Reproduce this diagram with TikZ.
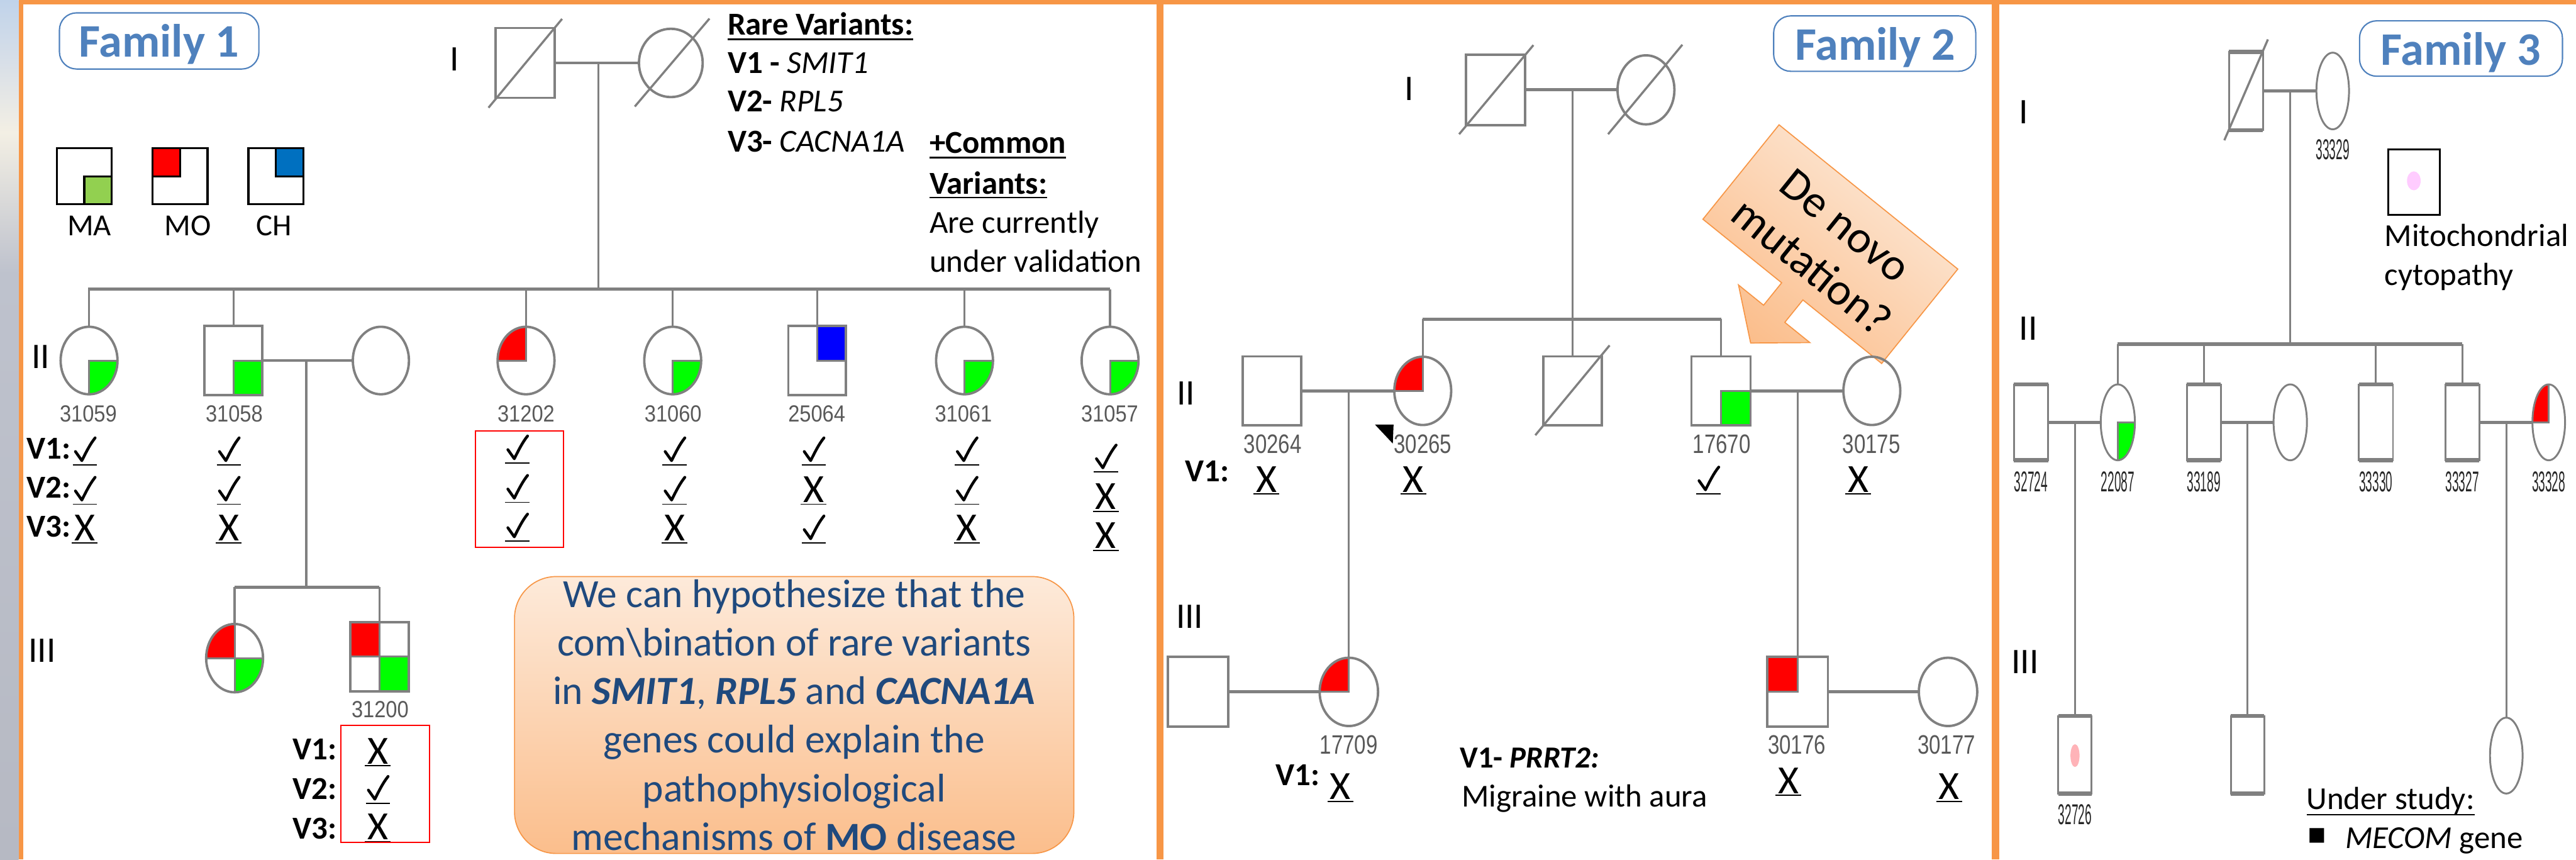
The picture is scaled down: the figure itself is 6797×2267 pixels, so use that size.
\documentclass[tikz,border=0pt]{standalone}
\usepackage{fontspec}
\setmainfont{Carlito}
\newfontfamily\arialf{Liberation Sans}
\newfontfamily\djv{DejaVu Sans}
\usepackage{graphicx}
\usetikzlibrary{shapes.geometric,calc}
\definecolor{orng}{HTML}{F79646}
\definecolor{fblue}{HTML}{4F81BD}
\definecolor{pgray}{HTML}{808080}
\definecolor{numgray}{HTML}{595959}
\definecolor{hblue}{HTML}{1F497D}
\definecolor{pgreen}{HTML}{00FF00}
\definecolor{lgreen}{HTML}{92D050}
\definecolor{lblue}{HTML}{0070C0}
\definecolor{pblue}{HTML}{0000FF}
\definecolor{pred}{HTML}{FF0000}
\definecolor{peachL}{HTML}{FDEADA}
\definecolor{peachD}{HTML}{FBBE8C}
\definecolor{mito}{HTML}{FFCCFF}
\definecolor{mitob}{HTML}{FFB3B8}
\newcommand\M[5]{\node[male, minimum width=#4*0.02cm, minimum height=#5*0.02cm] (#1) at (#2,-#3) {};}
\newcommand\F[5]{\node[female, minimum width=#4*0.02cm, minimum height=#5*0.02cm] (#1) at (#2,-#3) {};}
\newcommand\qE[7]{\begin{scope}\clip (#1,-#2) ellipse [x radius=#3, y radius=#4];
  \fill[#7] (#1,-#2) rectangle ++({#5*#3},{#6*#4});
  \draw[qline] ({#1+#5*#3},{-#2}) -- (#1,-#2) -- ({#1},{-#2+#6*#4});\end{scope}}
\newcommand\qR[7]{\fill[#7] (#1,-#2) rectangle ++({#5*#3},{#6*#4});
  \draw[qline] ({#1+#5*#3},{-#2}) -- (#1,-#2) -- ({#1},{-#2+#6*#4});}
% check mark drawn as a stroke, with its underline
\newcommand\ckm[3]{\coordinate (#1) at (#2,-#3);
  \draw[ckst] ($(#1)+(-25,35)$) -- ($(#1)+(-8,11)$) .. controls ($(#1)+(4,35)$) and ($(#1)+(14,55)$) .. ($(#1)+(27,71)$);
  \draw[ulk] ($(#1)+(-32,0)$) -- ($(#1)+(32,0)$);}
\newcommand\xm[3]{\node[mkx] (#1) at (#2,-#3+5) {X};
  \draw[ulk] ([xshift=-0.34cm,yshift=-0.05cm]#1.base) -- ([xshift=0.34cm,yshift=-0.05cm]#1.base);}
\newcommand\nA[1]{\scalebox{0.88}[1]{#1}}
\newcommand\nB[1]{\scalebox{0.78}[1]{#1}}
\newcommand\nC[1]{\scalebox{0.42}[1]{#1}}
\begin{document}
\begin{tikzpicture}[x=0.01cm,y=0.01cm,
  male/.style={rectangle, draw=pgray, line width=1.8pt, inner sep=0pt, outer sep=0pt},
  female/.style={ellipse, draw=pgray, line width=1.8pt, inner sep=0pt, outer sep=0pt},
  pline/.style={draw=pgray, line width=1.6pt},
  hline/.style={draw=pgray, line width=2.2pt},
  qline/.style={draw=pgray, line width=1.4pt},
  dslash/.style={draw=pgray, line width=1.6pt},
  lbl/.style={inner sep=0pt, outer sep=0pt},
  gen/.style={lbl, font=\fontsize{27}{27}\selectfont},
  txt/.style={lbl, anchor=base west, font=\fontsize{24}{24}\selectfont},
  vlab/.style={lbl, anchor=base west, font=\fontsize{24}{24}\selectfont\bfseries},
  num1/.style={lbl, text=numgray, font=\arialf\fontsize{17.5}{17.5}\selectfont},
  num2/.style={lbl, text=numgray, font=\arialf\fontsize{20}{20}\selectfont},
  num3/.style={lbl, text=black!85, font=\arialf\fontsize{21.5}{21.5}\selectfont},
  ckst/.style={draw=black, line width=2.1pt, line cap=round, line join=round},
  mkx/.style={anchor=base, inner sep=0pt, outer sep=0pt, font=\fontsize{30}{30}\selectfont},
  ulk/.style={draw=black, line width=0.9pt},
  ulk2/.style={draw=black, line width=1.2pt},
  famtitle/.style={draw=fblue, line width=1pt, rounded corners=0.45cm, fill=white, inner sep=0pt},
  famtext/.style={lbl, anchor=base, text=fblue, font=\fontsize{35}{35}\selectfont\bfseries},
  redbox/.style={draw=red, line width=1pt},
  lgbox/.style={rectangle, draw=black, line width=1.5pt, inner sep=0pt, outer sep=0pt, minimum width=1.45cm, minimum height=1.48cm},
  lgq/.style={draw=black, line width=1.5pt}
]
\useasboundingbox (0,0) rectangle (6797,-2267);
\fill[white] (0,0) rectangle (6797,-2267);
% left photo strip
\shade[top color={rgb,255:red,192;green,211;blue,234}, bottom color={rgb,255:red,214;green,222;blue,232}] (0,0) rectangle (49,-150);
\shade[top color={rgb,255:red,214;green,222;blue,232}, bottom color={rgb,255:red,243;green,239;blue,228}] (0,-150) rectangle (49,-350);
\shade[top color={rgb,255:red,243;green,239;blue,228}, bottom color={rgb,255:red,190;green,194;blue,205}] (0,-350) rectangle (49,-720);
\shade[top color={rgb,255:red,190;green,194;blue,205}, bottom color={rgb,255:red,182;green,185;blue,195}] (0,-720) rectangle (49,-2267);
% orange frames
\fill[orng] (49,0) rectangle (6797,-11);
\fill[orng] (49,0) rectangle (62,-2267);
\fill[orng] (3052,0) rectangle (3070,-2267);
\fill[orng] (5256,0) rectangle (5276,-2267);

%================ FAMILY 1 ================
\node[famtitle, minimum width=5.26cm, minimum height=1.48cm] (f1box) at (420,-108) {};
\node[famtext] (f1t) at (420,-151) {Family 1};
% legend
\node[lgbox] (lgMA) at (222.5,-465) {};
\node[lgbox] (lgMO) at (475,-465) {};
\node[lgbox] (lgCH) at (728,-465) {};
\filldraw[lgq, fill=lgreen] (lgMA.center) rectangle (lgMA.south east);
\filldraw[lgq, fill=pred] (lgMO.north west) rectangle (lgMO.center);
\filldraw[lgq, fill=lblue] (lgCH.center) rectangle (lgCH.north east);
\node[lbl, font=\fontsize{23}{23}\selectfont] (tMA) at (236,-596) {MA};
\node[lbl, font=\fontsize{23}{23}\selectfont] (tMO) at (495,-596) {MO};
\node[lbl, font=\fontsize{23}{23}\selectfont] (tCH) at (723,-596) {CH};
% rare variants
\node[txt, font=\fontsize{24}{24}\selectfont\bfseries] (rv) at (1920,-92) {Rare Variants:};
\draw[ulk2] ([yshift=-0.12cm]rv.base west) -- ([yshift=-0.12cm]rv.base east);
\node[txt] (rv1) at (1920,-193) {\textbf{V1 - }\textit{SMIT1}};
\node[txt] (rv2) at (1920,-295) {\textbf{V2- }\textit{RPL5}};
\node[txt] (rv3) at (1920,-400) {\textbf{V3- }\textit{CACNA1A}};
\node[txt, font=\fontsize{24}{24}\selectfont\bfseries] (cv1) at (2453,-404) {+Common};
\draw[ulk2] ([yshift=-0.12cm]cv1.base west) -- ([yshift=-0.12cm]cv1.base east);
\node[txt, font=\fontsize{24}{24}\selectfont\bfseries] (cv2) at (2453,-512) {Variants:};
\draw[ulk2] ([yshift=-0.09cm]cv2.base west) -- ([yshift=-0.09cm]cv2.base east);
\node[txt] (cv3) at (2453,-614) {Are currently};
\node[txt] (cv4) at (2453,-718) {under validation};
% generation labels
\node[gen] (f1g1) at (1200,-157) {I};
\node[gen] (f1g2) at (107,-941) {II};
\node[gen] (f1g3) at (111,-1716) {III};
% quadrant fills
\qE{235}{951}{75}{89}{1}{-1}{pgreen}
\qR{616}{951}{76}{91}{1}{-1}{pgreen}
\qE{1388}{951}{75}{89}{-1}{1}{pred}
\qE{1775}{951}{75}{89}{1}{-1}{pgreen}
\qR{2156}{951}{76}{91}{1}{1}{pblue}
\qE{2545}{951}{75}{89}{1}{-1}{pgreen}
\qE{2929}{951}{75}{89}{1}{-1}{pgreen}
\qE{619}{1736}{75}{90}{-1}{1}{pred}
\qE{619}{1736}{75}{90}{1}{-1}{pgreen}
\draw[qline] (544,-1736) -- (694,-1736);
\qR{1001}{1732}{77}{91}{-1}{1}{pred}
\qR{1001}{1732}{77}{91}{1}{-1}{pgreen}
\draw[qline] (924,-1732) -- (1078,-1732) (1001,-1641) -- (1001,-1823);
% persons
\M{f1i1}{1385}{166}{78}{92}
\F{f1i2}{1770}{166}{84}{90}
\draw[dslash] ($(f1i1.south west)+(-18,-26)$) -- ($(f1i1.north east)+(20,24)$);
\draw[dslash] ($(f1i2.center)+(-95,-115)$) -- ($(f1i2.center)+(102,117)$);
\F{p31059}{235}{951}{75}{89}
\M{p31058}{616}{951}{76}{91}
\F{s31058}{1005}{951}{74}{89}
\F{p31202}{1388}{951}{75}{89}
\F{p31060}{1775}{951}{75}{89}
\M{p25064}{2156}{951}{76}{91}
\F{p31061}{2545}{951}{75}{89}
\F{p31057}{2929}{951}{75}{89}
\F{p3f}{619}{1736}{75}{90}
\M{p31200}{1001}{1732}{77}{91}
% connectors
\coordinate (f1mar) at (1579,-166);
\coordinate (f1sibL) at (233,-763);
\coordinate (f1sibR) at (2929,-763);
\draw[hline] (f1i1.east) -- (f1i2.west);
\draw[pline] (f1mar) -- (f1mar |- f1sibL);
\draw[hline] (f1sibL) -- (f1sibR);
\foreach \n in {p31059,p31058,p31202,p31060,p25064,p31061,p31057}
  \draw[pline] (\n.north) -- (\n.north |- f1sibL);
\draw[hline] (p31058.east) -- (s31058.west);
\coordinate (f1m2) at (808,-951);
\coordinate (f1s3L) at (619,-1549);
\coordinate (f1s3R) at (1001,-1549);
\draw[pline] (f1m2) -- (f1m2 |- f1s3L);
\draw[hline] (f1s3L) -- (f1s3R);
\draw[pline] (p3f.north) -- (p3f.north |- f1s3L);
\draw[pline] (p31200.north) -- (p31200.north |- f1s3L);
% numbers
\node[num1] (n31059) at (233,-1091) {\nA{31059}};
\node[num1] (n31058) at (618,-1091) {\nA{31058}};
\node[num1] (n31202) at (1388,-1091) {\nA{31202}};
\node[num1] (n31060) at (1776,-1091) {\nA{31060}};
\node[num1] (n25064) at (2155,-1091) {\nA{25064}};
\node[num1] (n31061) at (2542,-1091) {\nA{31061}};
\node[num1] (n31057) at (2928,-1091) {\nA{31057}};
\node[num1] (n31200) at (1003,-1872) {\nA{31200}};
% variant labels
\node[vlab] (v1a) at (70,-1210) {V1:};
\node[vlab] (v2a) at (70,-1313) {V2:};
\node[vlab] (v3a) at (70,-1416) {V3:};
\node[vlab] (v1b) at (772,-2003) {V1:};
\node[vlab] (v2b) at (772,-2108) {V2:};
\node[vlab] (v3b) at (772,-2213) {V3:};
% marks
\ckm{a1}{224}{1226} \ckm{a2}{224}{1330} \xm{a3}{224}{1432}
\ckm{b1}{604}{1226} \ckm{b2}{604}{1330} \xm{b3}{604}{1432}
\ckm{c1}{1365}{1221} \ckm{c2}{1365}{1325} \ckm{c3}{1365}{1427}
\ckm{d1}{1780}{1226} \ckm{d2}{1780}{1330} \xm{d3}{1780}{1432}
\ckm{e1}{2147}{1226} \xm{e2}{2147}{1330} \ckm{e3}{2147}{1432}
\ckm{g1}{2551}{1226} \ckm{g2}{2551}{1330} \xm{g3}{2551}{1432}
\ckm{h1}{2918}{1245} \xm{h2}{2918}{1349} \xm{h3}{2918}{1452}
\xm{k1}{997}{2020} \ckm{k2}{997}{2119} \xm{k3}{997}{2220}
\draw[redbox] (1254,-1136) rectangle (1487,-1444);
\draw[redbox] (900,-1913) rectangle (1133,-2222);
% hypothesis box
\node[rectangle, rounded corners=1.1cm, draw=orng, line width=0.8pt, top color=peachL, bottom color=peachD,
  minimum width=14.75cm, minimum height=7.3cm, inner sep=0pt, align=center, text=hblue,
  font=\fontsize{30}{36.4}\selectfont] (hyp) at (2095.5,-1886)
  {We can hypothesize that the\\ com\textbackslash bination of rare variants\\ in \textbf{\textit{SMIT1}}, \textbf{\textit{RPL5}} and \textbf{\textit{CACNA1A}}\\ genes could explain the\\ pathophysiological\\ mechanisms of \textbf{MO} disease};

%================ FAMILY 2 ================
\node[famtitle, minimum width=5.33cm, minimum height=1.46cm] (f2box) at (4946.5,-115) {};
\node[famtext] (f2t) at (4948,-158) {Family 2};
\node[gen] (f2g1) at (3718,-235) {I};
\node[gen] (f2g2) at (3129,-1037) {II};
\node[gen] (f2g3) at (3139,-1627) {III};
% callout
\begin{scope}[shift={(4829.5,-644)}, rotate=-38.9]
\path[draw=orng, line width=0.8pt, top color=peachL, bottom color=peachD, shading angle=-38.9]
  (-303,160) -- (303,160) -- (303,-160) -- (36,-160) -- (36,-236) -- (121,-236) -- (0,-335)
  -- (-121,-236) -- (-36,-236) -- (-36,-160) -- (-303,-160) -- cycle;
\node[lbl, rotate=-38.9, align=center, font=\fontsize{34}{40}\selectfont] (denovo) at (0,-8) {De novo\\mutation?};
\end{scope}
% fills
\qE{3754}{1031}{75}{90}{-1}{1}{pred}
\qR{4541}{1031}{78}{91}{1}{-1}{pgreen}
\qE{3559}{1825}{77}{90}{-1}{1}{pred}
\qR{4743}{1825}{80}{92}{-1}{1}{pred}
% persons
\M{f2i1}{3946}{237}{78}{93}
\F{f2i2}{4343}{237}{75}{91}
\draw[dslash] ($(f2i1.center)+(-96,-117)$) -- ($(f2i1.center)+(100,118)$);
\draw[dslash] ($(f2i2.center)+(-100,-117)$) -- ($(f2i2.center)+(96,119)$);
\M{p30264}{3356}{1031}{77}{91}
\F{p30265}{3754}{1031}{75}{90}
\M{f2d}{4149}{1031}{77}{91}
\M{p17670}{4541}{1031}{78}{91}
\F{p30175}{4939}{1031}{75}{90}
\draw[dslash] ($(f2d.center)+(-98,-117)$) -- ($(f2d.center)+(98,120)$);
\M{f2s}{3161}{1825}{80}{92}
\F{p17709}{3559}{1825}{77}{90}
\M{p30176}{4743}{1825}{80}{92}
\F{p30177}{5140}{1825}{77}{90}
% connectors
\coordinate (f2mar) at (4149,-237);
\coordinate (f2sibL) at (3754,-842);
\coordinate (f2sibR) at (4541,-842);
\draw[hline] (f2i1.east) -- (f2i2.west);
\draw[pline] (f2mar) -- (f2mar |- f2sibL);
\draw[hline] (f2sibL) -- (f2sibR);
\foreach \n in {p30265,f2d,p17670}
  \draw[pline] (\n.north) -- (\n.north |- f2sibL);
\draw[hline] (p30264.east) -- (p30265.west);
\draw[hline] (p17670.east) -- (p30175.west);
\coordinate (f2m1) at (3559,-1031);
\coordinate (f2m2) at (4743,-1031);
\draw[pline] (f2m1) -- (p17709.north);
\draw[pline] (f2m2) -- (p30176.north);
\draw[hline] (f2s.east) -- (p17709.west);
\draw[hline] (p30176.east) -- (p30177.west);
\fill (3628,-1120) -- (3677,-1120) -- (3675,-1170) -- cycle;
% numbers
\node[num2] (n30264) at (3358,-1172) {\nB{30264}};
\node[num2] (n30265) at (3754,-1172) {\nB{30265}};
\node[num2] (n17670) at (4543,-1172) {\nB{17670}};
\node[num2] (n30175) at (4938,-1172) {\nB{30175}};
\node[num2] (n17709) at (3559,-1965) {\nB{17709}};
\node[num2] (n30176) at (4741,-1965) {\nB{30176}};
\node[num2] (n30177) at (5136,-1965) {\nB{30177}};
\node[vlab] (v1c) at (3127,-1271) {V1:};
\node[vlab] (v1d) at (3366,-2071) {V1:};
\xm{m1}{3342}{1303} \xm{m2}{3729}{1303} \ckm{m3}{4508}{1303} \xm{m4}{4903}{1303}
\xm{m5}{3537}{2114} \xm{m6}{4719}{2098} \xm{m7}{5143}{2114}
\node[txt, font=\fontsize{23}{23}\selectfont\bfseries] (prrt) at (3852,-2026) {V1- \textit{PRRT2:}};
\node[txt] (migr) at (3857,-2128) {Migraine with aura};

%================ FAMILY 3 ================
\node[famtitle, minimum width=5.35cm, minimum height=1.46cm] (f3box) at (6493.5,-128) {};
\node[famtext] (f3t) at (6493,-172) {Family 3};
\node[gen] (f3g1) at (5339,-296) {I};
\node[gen] (f3g2) at (5352,-866) {II};
\node[gen] (f3g3) at (5343,-1746) {III};
\node[rectangle, draw=black, line width=1.3pt, inner sep=0pt, minimum width=1.35cm, minimum height=1.73cm] (lgmito) at (6369.5,-480.5) {};
\fill[mito] (6369,-477) ellipse [x radius=18, y radius=25];
\node[txt] (mit1) at (6292,-649) {Mitochondrial};
\node[txt] (mit2) at (6292,-752) {cytopathy};
\node[txt] (under) at (6086,-2135) {Under study:};
\draw[ulk2] ([yshift=-0.14cm]under.base west) -- ([yshift=-0.14cm]under.base east);
\node[lbl, anchor=base west, font=\djv\fontsize{22}{22}\selectfont] (bul) at (6088,-2224) {▪};
\node[txt] (mecom) at (6188,-2238) {\textit{MECOM} gene};
\begin{scope}[male/.append style={line width=1.4pt}, female/.append style={line width=1.4pt},
  pline/.append style={line width=1.3pt}, hline/.append style={line width=2.4pt}]
\qE{5588}{1114}{45}{100}{1}{-1}{pgreen}
\qE{6725}{1114}{43}{100}{-1}{1}{pred}
\fill[mitob] (5475,-1993) ellipse [x radius=12, y radius=30];
\M{f3i1}{5926}{240}{45}{103}
\F{f3i2}{6155}{240}{43}{101}
\draw[dslash] ($(f3i1.center)+(-57,-130)$) -- ($(f3i1.center)+(58,136)$);
\M{p32724}{5359}{1114}{45}{100}
\F{p22087}{5588}{1114}{45}{100}
\M{p33189}{5815}{1114}{45}{100}
\F{f3w}{6043}{1114}{44}{100}
\M{p33330}{6269}{1114}{45}{100}
\M{p33327}{6497}{1114}{45}{100}
\F{p33328}{6725}{1114}{43}{100}
\M{p32726}{5475}{1991}{44}{102}
\M{f3c2}{5930}{1991}{44}{102}
\F{f3c3}{6613}{1993}{43}{100}
\foreach \n in {f3i1,p32724,p33189,p33330,p33327,p32726,f3c2}
  \draw[draw=pgray, line width=3pt] (\n.north west) -- (\n.north east) (\n.south west) -- (\n.south east);
\coordinate (f3mar) at (6043,-240);
\coordinate (f3sibL) at (5587,-908);
\coordinate (f3sibR) at (6497,-908);
\draw[hline] (f3i1.east) -- (f3i2.west);
\draw[pline] (f3mar) -- (f3mar |- f3sibL);
\draw[draw=pgray, line width=3pt] (f3sibL) -- (f3sibR);
\foreach \n in {p22087,p33189,p33330,p33327}
  \draw[pline] (\n.north) -- (\n.north |- f3sibL);
\draw[hline] (p32724.east) -- (p22087.west);
\draw[hline] (p33189.east) -- (f3w.west);
\draw[hline] (p33327.east) -- (p33328.west);
\coordinate (f3m1) at (5475,-1114);
\coordinate (f3m2) at (5930,-1114);
\coordinate (f3m3) at (6613,-1114);
\draw[pline] (f3m1) -- (p32726.north);
\draw[pline] (f3m2) -- (f3c2.north);
\draw[pline] (f3m3) -- (f3c3.north);
\end{scope}
\node[num3] (n33329) at (6155,-395) {\nC{33329}};
\node[num3] (n32724) at (5359,-1271) {\nC{32724}};
\node[num3] (n22087) at (5588,-1271) {\nC{22087}};
\node[num3] (n33189) at (5815,-1271) {\nC{33189}};
\node[num3] (n33330) at (6269,-1271) {\nC{33330}};
\node[num3] (n33327) at (6497,-1271) {\nC{33327}};
\node[num3] (n33328) at (6725,-1271) {\nC{33328}};
\node[num3] (n32726) at (5475,-2149) {\nC{32726}};
\end{tikzpicture}
\end{document}
